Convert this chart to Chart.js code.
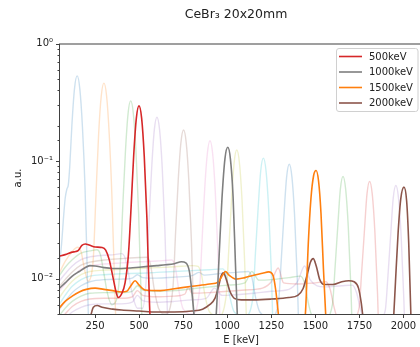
<!DOCTYPE html>
<html>
<head>
<meta charset="utf-8">
<script src="https://cdn.jsdelivr.net/npm/chart.js@4.4.0/dist/chart.umd.min.js"></script>
<style>
html, body { margin: 0; padding: 0; background: #fff; overflow: hidden; }
#wrap { width: 425px; height: 347px; }
</style>
</head>
<body>
<div id="wrap"><canvas id="grafico" width="425" height="347"></canvas></div>
<script>
// source energies (keV), in plotting order
const energies = [150, 300, 450, 500, 600, 750, 900, 1000, 1050, 1200, 1350, 1500, 1650, 1800, 1950, 2000]
const highlighted = [500, 1000, 1500, 2000]
const xTicks = [250, 500, 750, 1000, 1250, 1500, 1750, 2000]

// spectra: E [keV] and a.u.
const x150 = [45, 60, 72, 80, 90, 98, 106, 118, 133, 148, 163, 178, 193, 205, 215]
const y150 = [0.012, 0.02, 0.035, 0.048, 0.058, 0.063, 0.09, 0.2, 0.413, 0.53, 0.413, 0.196, 0.058, 0.012, 0.003]

const x300 = [45, 80, 120, 150, 170, 190, 210, 230, 240, 255, 270, 285, 300, 315, 330, 345, 360, 375]
const y300 = [0.011, 0.014, 0.017, 0.0185, 0.017, 0.012, 0.0095, 0.011, 0.015, 0.052, 0.17, 0.359, 0.46, 0.359, 0.17, 0.052, 0.0095, 0.002]

const x450 = [45, 80, 120, 170, 220, 260, 280, 300, 320, 345, 370, 392, 407, 422, 437, 452, 467, 482, 497, 512, 527]
const y450 = [0.0105, 0.0125, 0.0145, 0.0165, 0.0172, 0.0176, 0.016, 0.011, 0.0075, 0.006, 0.0065, 0.0125, 0.041, 0.12, 0.2535, 0.325, 0.2535, 0.12, 0.0358, 0.0065, 0.002]

const x500 = [45, 80, 120, 140, 155, 175, 195, 220, 250, 290, 310, 330, 350, 368, 381, 400, 420, 439, 454, 469, 484, 499, 514, 529, 544, 559, 575]
const y500 = [0.0155, 0.016, 0.0168, 0.017, 0.0174, 0.0192, 0.0197, 0.0192, 0.0186, 0.0184, 0.0175, 0.0145, 0.0105, 0.0078, 0.0069, 0.0074, 0.0092, 0.016, 0.04, 0.112, 0.232, 0.295, 0.232, 0.109, 0.0325, 0.0059, 0.002]

const x600 = [45, 80, 120, 170, 220, 300, 360, 400, 420, 440, 460, 490, 520, 541, 556, 571, 586, 601, 616, 631, 646, 661, 676]
const y600 = [0.0095, 0.011, 0.0128, 0.0145, 0.0153, 0.0158, 0.016, 0.0163, 0.015, 0.011, 0.0075, 0.0056, 0.0056, 0.0103, 0.031, 0.0873, 0.184, 0.236, 0.184, 0.0873, 0.026, 0.0047, 0.0015]

const x750 = [45, 80, 120, 170, 220, 300, 400, 500, 545, 565, 585, 610, 650, 692, 707, 722, 737, 752, 767, 782, 797, 812, 827]
const y750 = [0.0085, 0.0098, 0.0114, 0.013, 0.0138, 0.0144, 0.0148, 0.0151, 0.0152, 0.013, 0.0082, 0.0056, 0.005, 0.0085, 0.025, 0.07, 0.1435, 0.184, 0.1435, 0.068, 0.0202, 0.0037, 0.0012]

const x900 = [45, 80, 120, 170, 220, 300, 400, 500, 600, 685, 705, 725, 750, 800, 842, 857, 872, 887, 902, 917, 932, 947, 962, 977]
const y900 = [0.0078, 0.009, 0.0104, 0.012, 0.0128, 0.0133, 0.0136, 0.0139, 0.0141, 0.0144, 0.0125, 0.008, 0.0055, 0.005, 0.0078, 0.021, 0.058, 0.116, 0.149, 0.116, 0.0551, 0.0164, 0.003, 0.001]

const x1000 = [45, 80, 120, 160, 190, 220, 250, 300, 350, 400, 450, 500, 550, 600, 650, 700, 740, 765, 785, 800, 812, 830, 925, 940, 955, 970, 987, 1003, 1018, 1033, 1046, 1058, 1070]
const y1000 = [0.0082, 0.0092, 0.0105, 0.0115, 0.0123, 0.0129, 0.0128, 0.0124, 0.0122, 0.0122, 0.0123, 0.0125, 0.0127, 0.0129, 0.0131, 0.0134, 0.0139, 0.0136, 0.0115, 0.0075, 0.0048, 0.0025, 0.003, 0.0058, 0.017, 0.048, 0.105, 0.131, 0.104, 0.05, 0.014, 0.0045, 0.0015]

const x1050 = [45, 80, 120, 170, 220, 300, 400, 500, 600, 700, 800, 835, 855, 875, 900, 950, 994, 1009, 1024, 1039, 1054, 1069, 1084, 1099, 1114, 1129]
const y1050 = [0.0068, 0.0081, 0.0095, 0.0108, 0.0115, 0.0118, 0.012, 0.0122, 0.0124, 0.0126, 0.0129, 0.0127, 0.0105, 0.007, 0.0052, 0.0048, 0.0072, 0.018, 0.0459, 0.0967, 0.124, 0.0967, 0.0459, 0.0136, 0.0025, 0.001]

const x1200 = [45, 80, 120, 170, 220, 300, 400, 500, 600, 700, 800, 900, 975, 995, 1015, 1040, 1100, 1145, 1160, 1175, 1190, 1205, 1220, 1235, 1250, 1265, 1280]
const y1200 = [0.006, 0.0072, 0.0086, 0.0098, 0.0105, 0.0108, 0.011, 0.0111, 0.0113, 0.0115, 0.0117, 0.0119, 0.0121, 0.0105, 0.007, 0.0052, 0.0048, 0.0068, 0.0165, 0.0392, 0.0827, 0.106, 0.0827, 0.0392, 0.0117, 0.0021, 0.001]

const x1350 = [45, 80, 120, 170, 220, 300, 400, 460, 490, 520, 600, 700, 800, 839, 870, 950, 1050, 1120, 1140, 1160, 1185, 1250, 1292, 1307, 1322, 1337, 1352, 1367, 1382, 1397, 1412, 1427]
const y1350 = [0.0054, 0.0064, 0.0076, 0.0087, 0.0094, 0.0098, 0.0099, 0.0101, 0.0108, 0.0102, 0.0101, 0.0103, 0.0106, 0.0113, 0.0107, 0.011, 0.0113, 0.0115, 0.0102, 0.007, 0.0052, 0.0047, 0.0066, 0.0148, 0.0348, 0.0733, 0.094, 0.0733, 0.0348, 0.0103, 0.0019, 0.001]

const x1500 = [45, 80, 120, 160, 200, 250, 300, 350, 400, 430, 455, 477, 500, 533, 620, 700, 800, 900, 950, 975, 990, 1010, 1050, 1100, 1150, 1200, 1235, 1260, 1275, 1290, 1305, 1430, 1445, 1460, 1475, 1490, 1504, 1518, 1532, 1546, 1560, 1575]
const y1500 = [0.0056, 0.0064, 0.0071, 0.0077, 0.0081, 0.0083, 0.0081, 0.0079, 0.0077, 0.0078, 0.0088, 0.0096, 0.0088, 0.008, 0.0079, 0.0082, 0.0086, 0.009, 0.0094, 0.0108, 0.0115, 0.0107, 0.0099, 0.0102, 0.0107, 0.0111, 0.0114, 0.0106, 0.008, 0.005, 0.003, 0.003, 0.0055, 0.02, 0.048, 0.075, 0.083, 0.068, 0.036, 0.012, 0.0045, 0.002]

const x1650 = [45, 80, 120, 170, 220, 300, 400, 460, 490, 520, 600, 700, 800, 900, 1000, 1100, 1139, 1180, 1250, 1350, 1415, 1440, 1460, 1480, 1550, 1597, 1612, 1627, 1642, 1657, 1672, 1687, 1702, 1717, 1732]
const y1650 = [0.0048, 0.0056, 0.0064, 0.0071, 0.0075, 0.0076, 0.0076, 0.0078, 0.0087, 0.008, 0.0078, 0.0079, 0.0082, 0.0085, 0.0088, 0.0092, 0.0115, 0.0097, 0.0098, 0.0102, 0.0105, 0.009, 0.0062, 0.0049, 0.0045, 0.006, 0.0125, 0.0274, 0.0577, 0.074, 0.0577, 0.0274, 0.0081, 0.0015, 0.0008]

const x1800 = [45, 80, 120, 170, 220, 300, 400, 460, 490, 520, 600, 700, 760, 778, 800, 900, 1000, 1100, 1200, 1250, 1289, 1320, 1400, 1500, 1560, 1585, 1605, 1630, 1700, 1748, 1763, 1778, 1793, 1808, 1823, 1838, 1853, 1868, 1883]
const y1800 = [0.0044, 0.005, 0.0058, 0.0064, 0.0067, 0.0068, 0.0068, 0.007, 0.0079, 0.0072, 0.007, 0.0071, 0.0074, 0.0084, 0.0075, 0.0076, 0.0078, 0.008, 0.0083, 0.0094, 0.0123, 0.0092, 0.009, 0.0092, 0.0094, 0.008, 0.0058, 0.0045, 0.0043, 0.0056, 0.0115, 0.0248, 0.0523, 0.067, 0.0523, 0.0248, 0.0074, 0.0013, 0.0008]

const x1950 = [45, 80, 120, 170, 220, 300, 400, 460, 490, 520, 600, 700, 800, 880, 928, 970, 1050, 1150, 1250, 1350, 1400, 1439, 1470, 1550, 1650, 1710, 1735, 1755, 1780, 1850, 1897, 1912, 1927, 1942, 1957, 1972, 1987, 2002, 2017, 2032]
const y1950 = [0.004, 0.0046, 0.0052, 0.0057, 0.006, 0.0061, 0.0061, 0.0063, 0.0072, 0.0065, 0.0063, 0.0064, 0.0066, 0.0068, 0.0083, 0.0072, 0.0073, 0.0075, 0.0078, 0.0081, 0.0095, 0.0128, 0.0098, 0.0085, 0.0087, 0.0088, 0.0075, 0.0056, 0.0044, 0.0042, 0.0054, 0.0105, 0.0229, 0.0484, 0.062, 0.0484, 0.0229, 0.0068, 0.0013, 0.0007]

const x2000 = [45, 150, 200, 222, 240, 262, 290, 350, 400, 500, 600, 700, 800, 860, 900, 930, 950, 965, 978, 995, 1015, 1040, 1080, 1150, 1250, 1350, 1400, 1430, 1455, 1472, 1488, 1505, 1525, 1550, 1600, 1650, 1690, 1720, 1745, 1760, 1772, 1790, 1925, 1940, 1955, 1970, 1985, 2003, 2018, 2030, 2042, 2055]
const y2000 = [0.0035, 0.004, 0.0042, 0.0047, 0.0057, 0.0059, 0.0057, 0.0055, 0.0054, 0.0053, 0.0052, 0.0052, 0.0053, 0.0055, 0.006, 0.0068, 0.0085, 0.0105, 0.0112, 0.0098, 0.0078, 0.0068, 0.0066, 0.0066, 0.0067, 0.0069, 0.0072, 0.0082, 0.011, 0.0138, 0.0148, 0.0128, 0.0098, 0.0089, 0.0089, 0.0094, 0.0096, 0.0094, 0.0083, 0.0063, 0.0045, 0.003, 0.0015, 0.0035, 0.0095, 0.025, 0.048, 0.06, 0.046, 0.02, 0.005, 0.0015]

const espectros = {
    150: [x150, y150], 300: [x300, y300], 450: [x450, y450], 500: [x500, y500],
    600: [x600, y600], 750: [x750, y750], 900: [x900, y900], 1000: [x1000, y1000],
    1050: [x1050, y1050], 1200: [x1200, y1200], 1350: [x1350, y1350], 1500: [x1500, y1500],
    1650: [x1650, y1650], 1800: [x1800, y1800], 1950: [x1950, y1950], 2000: [x2000, y2000]
}

const tab10 = ['#1f77b4', '#ff7f0e', '#2ca02c', '#d62728', '#9467bd',
               '#8c564b', '#e377c2', '#7f7f7f', '#bcbd22', '#17becf']

const comAlpha = (hex, a) => {
    const n = parseInt(hex.slice(1), 16)
    return `rgba(${n >> 16}, ${(n >> 8) & 255}, ${n & 255}, ${a})`
}

const datasets = energies.map((e, i) => {
    const [xs, ys] = espectros[e]
    const destaque = highlighted.includes(e)
    const cor = tab10[i % 10]
    return {
        label: e + 'keV',
        data: xs.map((x, k) => ({ x: x, y: ys[k] })),
        borderColor: destaque ? cor : comAlpha(cor, 0.22),
        borderWidth: destaque ? 1.6 : 1.4,
        order: destaque ? 0 : 1,
        destaque: destaque
    }
})

const FONTE = '"DejaVu Sans", sans-serif'

const isDecada = v => {
    const l = Math.log10(v)
    return Math.abs(l - Math.round(l)) < 1e-6
}

const moldura = {
    id: 'moldura',
    afterDraw(chart) {
        const ctx = chart.ctx
        const a = chart.chartArea
        const sx = chart.scales.x
        const sy = chart.scales.y
        ctx.save()

        // frame
        ctx.strokeStyle = '#404040'
        ctx.lineWidth = 1
        ctx.strokeRect(a.left + 0.5, a.top + 0.5, a.right - a.left, a.bottom - a.top)

        // tick marks
        ctx.beginPath()
        sx.ticks.forEach(t => {
            const px = Math.round(sx.getPixelForValue(t.value)) + 0.5
            ctx.moveTo(px, a.bottom + 0.5)
            ctx.lineTo(px, a.bottom + 4)
        })
        sy.ticks.forEach(t => {
            const py = Math.round(sy.getPixelForValue(t.value)) + 0.5
            const len = isDecada(t.value) ? 3.5 : 2
            ctx.moveTo(a.left + 0.5, py)
            ctx.lineTo(a.left + 0.5 - len, py)
        })
        ctx.stroke()

        // title and axis labels
        ctx.fillStyle = '#222'
        ctx.textAlign = 'center'
        ctx.textBaseline = 'middle'
        ctx.font = '12.5px ' + FONTE
        ctx.fillText('CeBr₃ 20x20mm', 236, 15)
        ctx.font = '10px ' + FONTE
        ctx.fillText('E [keV]', 241, 340)
        ctx.save()
        ctx.translate(18.5, 178)
        ctx.rotate(-Math.PI / 2)
        ctx.fillText('a.u.', 0, 0)
        ctx.restore()

        // legend
        const lx = 336.5, ly = 48.5, lw = 81.5, lh = 63
        ctx.beginPath()
        ctx.roundRect(lx, ly, lw, lh, 2.5)
        ctx.fillStyle = 'rgba(255,255,255,0.85)'
        ctx.fill()
        ctx.strokeStyle = '#d0d0d0'
        ctx.stroke()
        const itens = chart.data.datasets.filter(d => d.destaque)
        ctx.textAlign = 'left'
        ctx.font = '10px ' + FONTE
        itens.forEach((d, i) => {
            const yy = 56.5 + i * 15.5
            ctx.strokeStyle = d.borderColor
            ctx.lineWidth = 1.6
            ctx.beginPath()
            ctx.moveTo(339, yy)
            ctx.lineTo(362, yy)
            ctx.stroke()
            ctx.fillStyle = '#222'
            ctx.fillText(d.label, 369, yy + 0.5)
        })
        ctx.restore()
    }
}

const grafico = new Chart(document.getElementById('grafico'), {
    type: 'line',
    data: { datasets: datasets },
    options: {
        responsive: false,
        animation: false,
        layout: { padding: { top: 43.5, right: 2, left: 0, bottom: 0 } },
        elements: {
            point: { radius: 0 },
            line: { cubicInterpolationMode: 'monotone' }
        },
        plugins: { legend: { display: false }, tooltip: { enabled: false } },
        scales: {
            x: {
                type: 'linear',
                min: 45,
                max: 2111,
                afterBuildTicks: s => { s.ticks = xTicks.map(v => ({ value: v })) },
                afterFit: s => { s.height = 33 },
                grid: { display: true, drawOnChartArea: false, drawTicks: false },
                border: { display: false },
                ticks: {
                    autoSkip: false,
                    maxRotation: 0,
                    padding: 6,
                    color: '#222',
                    font: { family: FONTE, size: 10 },
                    callback: v => String(v)
                }
            },
            y: {
                type: 'logarithmic',
                min: 0.005,
                max: 1,
                afterFit: s => { s.width = 59 },
                grid: { display: true, drawOnChartArea: false, drawTicks: false },
                border: { display: false },
                ticks: {
                    autoSkip: false,
                    padding: 6,
                    color: '#222',
                    font: { family: FONTE, size: 10 },
                    callback: v => {
                        if (!isDecada(v)) return ''
                        const p = Math.round(Math.log10(v))
                        const sup = { '0': '⁰', '1': '¹', '2': '²', '-': '⁻' }
                        return '10' + String(p).split('').map(c => sup[c]).join('')
                    }
                }
            }
        }
    },
    plugins: [moldura]
})
</script>
</body>
</html>
